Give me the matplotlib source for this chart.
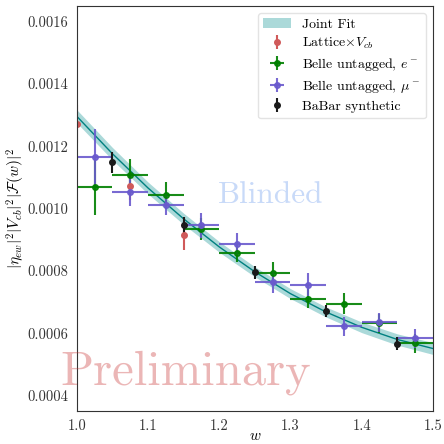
import numpy as np
import matplotlib
matplotlib.use('Agg')
import matplotlib.pyplot as plt

plt.rcParams['font.family'] = 'serif'
plt.rcParams['font.serif'] = ['cmr10']
plt.rcParams['mathtext.fontset'] = 'cm'
plt.rcParams['axes.formatter.use_mathtext'] = True

# fit band
w_fit = [1.0, 1.05, 1.1, 1.15, 1.2, 1.25, 1.3, 1.35, 1.4, 1.45, 1.5]
fit_val = [0.001296, 0.001176, 0.001066, 0.000967, 0.000877, 0.000797,
           0.000727, 0.000668, 0.000619, 0.000580, 0.000551]
fit_err = [0.000021, 0.000020, 0.000019, 0.000018, 0.000017, 0.000016,
           0.000016, 0.000016, 0.000017, 0.000018, 0.000019]

# lattice x Vcb
w_lat = [1.0, 1.075, 1.15]
y_lat = [0.001271, 0.001073, 0.000916]
e_lat = [0.000061, 0.000045, 0.000050]

# Belle untagged e
w_be = [1.025, 1.075, 1.125, 1.175, 1.225, 1.275, 1.325, 1.375, 1.425, 1.475]
y_be = [0.001068, 0.001109, 0.001042, 0.000935, 0.000857, 0.000793,
        0.000711, 0.000695, 0.000632, 0.000568]
e_be = [0.000088, 0.000050, 0.000043, 0.000035, 0.000030, 0.000035,
        0.000030, 0.000034, 0.000030, 0.000030]

# Belle untagged mu
w_bm = w_be
y_bm = [0.001165, 0.001054, 0.001013, 0.000947, 0.000886, 0.000764,
        0.000755, 0.000622, 0.000635, 0.000584]
e_bm = [0.000090, 0.000047, 0.000033, 0.000040, 0.000035, 0.000035,
        0.000037, 0.000030, 0.000030, 0.000030]
xerr_belle = 0.025

# BaBar synthetic
w_bb = [1.05, 1.15, 1.25, 1.35, 1.45]
y_bb = [0.001148, 0.000948, 0.000795, 0.000672, 0.000567]
e_bb = [0.000035, 0.000025, 0.000020, 0.000020, 0.000020]

fig = plt.figure(figsize=(4.44, 4.44), dpi=100)
ax = fig.add_axes([0.173, 0.074, 0.802, 0.9125])

lo = np.array(fit_val) - np.array(fit_err)
hi = np.array(fit_val) + np.array(fit_err)
ax.fill_between(w_fit, lo, hi, color='#a2d5d5', alpha=0.9, lw=0, label='Joint Fit')
ax.plot(w_fit, fit_val, color='#008080', lw=1.0)

ax.errorbar(w_lat, y_lat, yerr=e_lat, fmt='o', color='#d05a5a', ms=4,
            elinewidth=1.5, label=r'Lattice$\times V_{cb}$')
ax.errorbar(w_be, y_be, yerr=e_be, xerr=xerr_belle, fmt='o', color='green',
            ms=4, elinewidth=1.5, alpha=0.9, label=r'Belle untagged, $e^-$')
ax.errorbar(w_bm, y_bm, yerr=e_bm, xerr=xerr_belle, fmt='o', color='#6a5acd',
            ms=4, elinewidth=1.5, alpha=0.9, label=r'Belle untagged, $\mu^-$')
ax.errorbar(w_bb, y_bb, yerr=e_bb, fmt='o', color='#1a1a1a', ms=4,
            elinewidth=1.5, label='BaBar synthetic')

ax.text(1.272, 0.001045, 'Blinded', fontsize=22.5, color='cornflowerblue',
        alpha=0.35, ha='center', va='center')
ax.text(1.153, 0.000472, 'Preliminary', fontsize=35, color='#c83030',
        alpha=0.35, ha='center', va='center')

ax.set_xlim(1.0, 1.5)
ax.set_ylim(0.00035, 0.00165)
ax.set_xticks([1.0, 1.1, 1.2, 1.3, 1.4, 1.5])
ax.set_yticks([0.0004, 0.0006, 0.0008, 0.0010, 0.0012, 0.0014, 0.0016])
ax.set_yticklabels(['0.0004', '0.0006', '0.0008', '0.0010', '0.0012', '0.0014', '0.0016'])
ax.set_xticklabels(['1.0', '1.1', '1.2', '1.3', '1.4', '1.5'])
ax.tick_params(length=0, labelsize=10.5, colors='#333333', pad=6)
for s in ax.spines.values():
    s.set_color('#333333')
ax.set_xlabel(r'$w$', fontsize=11)
ax.xaxis.set_label_coords(0.5, -0.045)
ax.set_ylabel(r'$|\eta_{ew}|^2|V_{cb}|^2|\mathcal{F}(w)|^2$', fontsize=11)
ax.yaxis.set_label_coords(-0.14, 0.5)
ax.legend(loc='upper right', fontsize=10, labelspacing=0.35, framealpha=0.8,
          edgecolor='#dddddd')

fig.savefig('out.png', dpi=100)
